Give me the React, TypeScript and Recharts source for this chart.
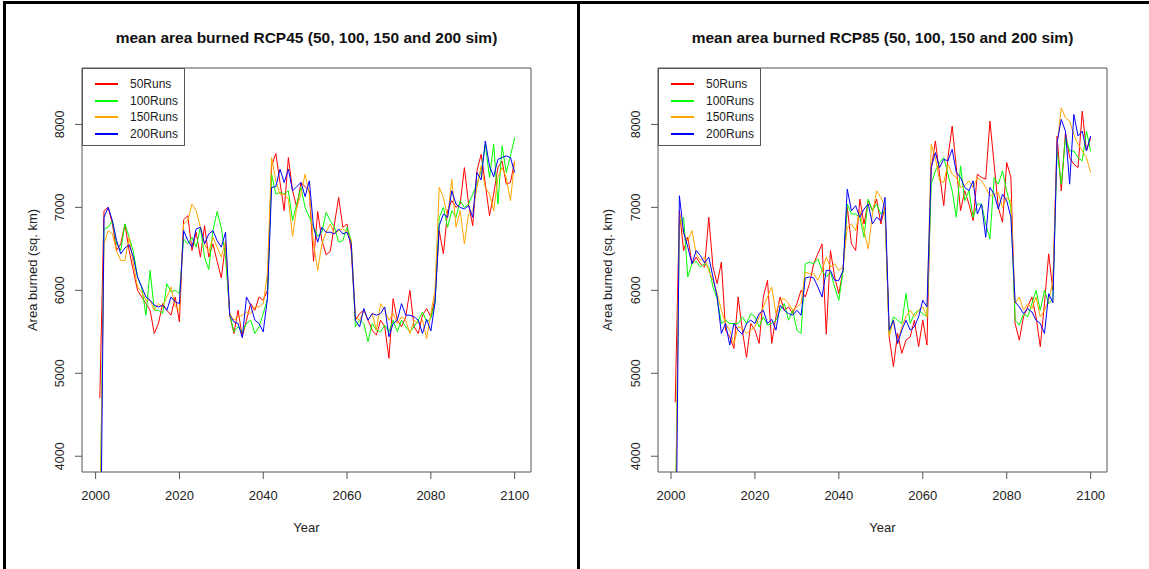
import React from 'react';
import { LineChart, Line, XAxis, YAxis, ReferenceArea, Legend } from 'recharts';

const FONT = '"Liberation Sans", Arial, Helvetica, sans-serif';

const years: number[] = Array.from({ length: 100 }, (_, i) => 2001 + i);
const seriesKeys = ['r50', 'r100', 'r150', 'r200'];
const seriesNames = ['50Runs', '100Runs', '150Runs', '200Runs'];
const seriesColors = ['#FF0000', '#00FF00', '#FFA500', '#0000FF'];
const xTicks = [2000, 2020, 2040, 2060, 2080, 2100];
const yTicks = [4000, 5000, 6000, 7000, 8000];
const yDomain: [number, number] = [3810, 8680];

// RCP45
const rcp45_50 = [
  4700, 6960, 7000, 6800, 6480, 6560, 6800, 6480, 6240, 6000,
  5920, 5840, 5760, 5480, 5600, 5840, 5760, 5700, 5920, 5620,
  6850, 6900, 6480, 6700, 6400, 6780, 6400, 6560, 6350, 6150,
  6560, 5700, 5480, 5760, 5440, 5640, 5840, 5760, 5920, 5880,
  6000, 7500, 7650, 7300, 6960, 7600, 7200, 7000, 7300, 7250,
  7200, 6350, 6950, 6600, 6430, 6470, 6800, 7120, 6760, 6800,
  6480, 5640, 5720, 5760, 5640, 5520, 5460, 5640, 5560, 5180,
  5900, 5640, 5560, 5680, 6000, 5560, 5480, 5700, 5780, 5680,
  5900, 6720, 6440, 6960, 7080, 7000, 7040, 7480, 7040, 6780,
  7440, 7640, 7280, 6900, 7160, 7480, 7560, 7280, 7300, 7560,
];
const rcp45_100 = [
  3000, 6740, 6760, 6840, 6560, 6480, 6800, 6640, 6470, 6160,
  6040, 5700, 6240, 5760, 5760, 5720, 6080, 5980, 6000, 5960,
  6620, 6560, 6640, 6520, 6760, 6400, 6250, 6720, 6950, 6750,
  6400, 5720, 5500, 5560, 5500, 5600, 5640, 5480, 5560, 5720,
  5900, 7400, 7160, 7180, 7160, 7200, 6840, 7040, 7240, 7000,
  6880, 6770, 6650, 6700, 6940, 6840, 6760, 6580, 6600, 6760,
  6600, 5560, 5640, 5600, 5380, 5600, 5520, 5500, 5580, 5500,
  5640, 5500, 5640, 5560, 5500, 5560, 5640, 5740, 5620, 5660,
  5850, 6880, 7000, 6760, 6960, 6880, 7080, 7000, 7040, 7160,
  7280, 7440, 7760, 7360, 7760, 7040, 7740, 7420, 7620, 7840,
];
const rcp45_150 = [
  3000, 6560, 6720, 6680, 6470, 6360, 6360, 6640, 6320, 6040,
  5980, 5880, 5880, 5760, 5840, 5800, 5920, 6040, 5800, 5760,
  6800, 6840, 7040, 6960, 6760, 6560, 6460, 6640, 6520, 6400,
  6600, 5720, 5640, 5680, 5700, 5740, 5720, 5800, 5800, 5840,
  6200, 7600, 7320, 7160, 7160, 7100, 6650, 7000, 7160, 7400,
  7160, 6560, 6240, 6560, 6700, 6800, 6680, 6720, 6740, 6700,
  6600, 5680, 5640, 5760, 5640, 5720, 5520, 5840, 5760, 5640,
  5720, 5600, 5680, 5640, 5480, 5640, 5600, 5640, 5420, 5720,
  6000, 7240, 7120, 6880, 7340, 6760, 6960, 6560, 6920, 6960,
  7240, 7500, 7240, 7160, 6960, 7360, 7480, 7360, 7080, 7560,
];
const rcp45_200 = [
  1700, 6880, 7000, 6840, 6600, 6440, 6510, 6550, 6400, 6160,
  6040, 5920, 5880, 5820, 5800, 5820, 5760, 5920, 5860, 5840,
  6720, 6600, 6520, 6740, 6760, 6560, 6680, 6720, 6600, 6520,
  6700, 5700, 5620, 5600, 5430, 5920, 5820, 5640, 5600, 5500,
  5900, 7240, 7250, 7460, 7300, 7460, 7200, 7250, 7300, 7130,
  7320, 6760, 6580, 6760, 6700, 6700, 6680, 6740, 6680, 6700,
  6560, 5640, 5560, 5780, 5640, 5720, 5700, 5720, 5800, 5440,
  5600, 5640, 5840, 5700, 5700, 5680, 5640, 5480, 5650, 5510,
  5850, 6780, 6920, 6880, 7200, 7040, 7000, 6980, 7020, 6880,
  7420, 7330, 7800, 7500, 7370, 7580, 7600, 7620, 7600, 7420,
];

// RCP85
const rcp85_50 = [
  4650, 6960, 6480, 6640, 6320, 6400, 6320, 6280, 6880, 6280,
  6080, 6340, 5520, 5440, 5300, 5920, 5520, 5190, 5600, 5520,
  5360, 5920, 6120, 5360, 5680, 5920, 5760, 5800, 5720, 5840,
  6000, 5920, 6080, 6320, 6440, 6560, 5470, 6480, 6160, 5960,
  6240, 7000, 6560, 6480, 7100, 6800, 7080, 6960, 7100, 6800,
  7000, 5440, 5080, 5480, 5240, 5400, 5440, 5640, 5320, 5640,
  5340, 7460, 7800, 7400, 7020, 7600, 7980, 7480, 6960, 7200,
  7040, 6840, 7400, 7360, 7340, 8040, 7520, 7000, 6820, 7540,
  7360, 5600, 5400, 5680, 5800, 5920, 5680, 5320, 5840, 6440,
  6000, 7860, 7200, 7900, 7600, 7520, 7480, 8160, 7680, 7840,
];
const rcp85_100 = [
  3000, 6800, 6880, 6160, 6320, 6350, 6280, 6320, 6280, 6040,
  5900, 5600, 5640, 5600, 5600, 5600, 5680, 5600, 5720, 5680,
  5560, 5680, 5580, 5600, 5640, 5760, 5840, 5640, 5760, 5520,
  5480, 6320, 6340, 6320, 6380, 6240, 6160, 6220, 6040, 5880,
  6240, 7040, 6920, 6920, 6880, 6640, 7100, 6960, 7040, 6920,
  6960, 5480, 5680, 5640, 5600, 5960, 5600, 5720, 5760, 5720,
  5680, 7280, 7440, 7540, 7600, 7400, 7200, 6880, 7500, 7080,
  7200, 6880, 7040, 7040, 6800, 6620, 7360, 7280, 7440, 7200,
  7000, 5640, 5580, 5720, 5680, 5840, 6000, 5760, 6000, 5840,
  5900, 7680, 7280, 7840, 7680, 7680, 7600, 7560, 7920, 7680,
];
const rcp85_150 = [
  3000, 6920, 6680, 6600, 6720, 6440, 6360, 6400, 6240, 6120,
  5960, 5760, 5600, 5520, 5360, 5560, 5540, 5480, 5520, 5560,
  5680, 5800, 5920, 6040, 5720, 5880, 5900, 5840, 5760, 5800,
  5840, 6220, 6200, 6200, 6120, 6240, 6400, 6280, 6320, 6240,
  6280, 6760, 6800, 6720, 6960, 6720, 6500, 6920, 7200, 7120,
  7000, 5440, 5640, 5360, 5560, 5680, 5760, 5680, 5760, 5800,
  5680, 7760, 7600, 7320, 7300, 7520, 7400, 7360, 7240, 7260,
  7320, 7240, 7360, 7320, 7240, 7140, 7160, 7180, 7000, 7120,
  7080, 5840, 5920, 5760, 5840, 5780, 5920, 5680, 5760, 5880,
  6100, 7760, 8200, 8080, 8040, 7880, 7760, 7680, 7600, 7420,
];
const rcp85_200 = [
  1700, 7140, 6700, 6520, 6320, 6480, 6420, 6330, 6400, 6160,
  5920, 5480, 5600, 5340, 5600, 5520, 5470, 5600, 5640, 5600,
  5720, 5760, 5600, 5650, 5520, 5820, 5760, 5720, 5700, 5760,
  5700, 6150, 6160, 6150, 6040, 5920, 6240, 6240, 6120, 6120,
  6240, 7220, 6960, 7020, 6880, 6980, 7040, 6800, 6880, 6840,
  7120, 5520, 5640, 5360, 5520, 5640, 5520, 5560, 5680, 5880,
  5800, 7480, 7660, 7480, 7580, 7560, 7700, 7420, 7360, 7240,
  7200, 7320, 6920, 7040, 6640, 7240, 7160, 6980, 7160, 7080,
  6880, 5860, 5800, 5720, 5780, 5740, 5640, 5600, 5480, 5960,
  5850, 7780, 8060, 7920, 7280, 8120, 7860, 7920, 7680, 7860,
];

function buildRows(series: number[][]) {
  return years.map((year, i) => {
    const row: any = { year };
    seriesKeys.forEach((k, j) => {
      row[k] = series[j][i];
    });
    return row;
  });
}

const data45 = buildRows([rcp45_50, rcp45_100, rcp45_150, rcp45_200]);
const data85 = buildRows([rcp85_50, rcp85_100, rcp85_150, rcp85_200]);

const XTick = (props: any) => {
  const { x, y, payload } = props;
  return (
    <text x={x} y={y + 18.5} textAnchor="middle" fontSize={13} fill="#222" fontFamily={FONT}>
      {payload.value}
    </text>
  );
};

const YTick = (props: any) => {
  const { x, y, payload } = props;
  const bx = x - 9;
  return (
    <text
      x={bx}
      y={y}
      transform={`rotate(-90 ${bx} ${y})`}
      textAnchor="middle"
      fontSize={12.5}
      fill="#222"
      fontFamily={FONT}
    >
      {payload.value}
    </text>
  );
};

const XTitle = (props: any) => {
  const vb = props.viewBox || { x: 82, y: 472, width: 449, height: 97 };
  return (
    <text x={vb.x + vb.width / 2} y={vb.y + 59.5} textAnchor="middle" fontSize={13} fill="#222" fontFamily={FONT}>
      Year
    </text>
  );
};

const YTitle = (props: any) => {
  const vb = props.viewBox || { x: 0, y: 68, width: 82, height: 404 };
  const bx = vb.x + 36.5;
  const cy = vb.y + vb.height / 2;
  return (
    <text
      x={bx}
      y={cy}
      transform={`rotate(-90 ${bx} ${cy})`}
      textAnchor="middle"
      fontSize={13}
      fill="#222"
      fontFamily={FONT}
    >
      Area burned (sq. km)
    </text>
  );
};

// Legend drawn in the series' own order and colours (R-style boxed legend)
const LegendBox = () => {
  return (
    <div
      style={{
        position: 'relative',
        width: 103,
        height: 78,
        border: '1px solid #555',
        boxSizing: 'border-box',
        background: '#fff',
        fontFamily: FONT,
        fontSize: 12,
        color: '#222',
        textAlign: 'left',
      }}
    >
      {seriesNames.map((name, i) => {
        const cy = Math.round(15 + i * 16.5);
        return (
          <React.Fragment key={name}>
            <div
              style={{
                position: 'absolute',
                left: 12,
                top: cy - 1,
                width: 23,
                height: 2,
                backgroundColor: seriesColors[i],
              }}
            />
            <div style={{ position: 'absolute', left: 47, top: cy - 8, height: 16, lineHeight: '16px' }}>{name}</div>
          </React.Fragment>
        );
      })}
    </div>
  );
};

type PanelProps = {
  left: number;
  width: number;
  yAxisWidth: number;
  marginRight: number;
  xDomain: [number, number];
  data: any[];
  title: string;
};

const Panel = ({ left, width, yAxisWidth, marginRight, xDomain, data, title }: PanelProps) => {
  return (
    <div style={{ position: 'absolute', left, top: 0, width, height: 569 }}>
      <LineChart width={width} height={569} data={data} margin={{ top: 68, right: marginRight, left: 0, bottom: 0 }}>
        <XAxis
          dataKey="year"
          type="number"
          domain={xDomain}
          ticks={xTicks}
          interval={0}
          allowDataOverflow
          axisLine={false}
          tickLine={{ stroke: '#555' }}
          tickSize={7}
          tickMargin={2}
          tick={<XTick />}
          height={97}
          label={<XTitle />}
        />
        <YAxis
          type="number"
          domain={yDomain}
          ticks={yTicks}
          interval={0}
          allowDataOverflow
          axisLine={false}
          tickLine={{ stroke: '#555' }}
          tickSize={7}
          tickMargin={2}
          tick={<YTick />}
          width={yAxisWidth}
          label={<YTitle />}
        />
        {seriesKeys.map((k, i) => (
          <Line
            key={k}
            dataKey={k}
            name={seriesNames[i]}
            stroke={seriesColors[i]}
            strokeWidth={1}
            dot={false}
            activeDot={false}
            isAnimationActive={false}
          />
        ))}
        <ReferenceArea
          x1={xDomain[0]}
          x2={xDomain[1]}
          y1={yDomain[0]}
          y2={yDomain[1]}
          fill="none"
          fillOpacity={0}
          stroke="#555"
          strokeWidth={1}
          ifOverflow="visible"
        />
        <Legend
          layout="vertical"
          align="center"
          verticalAlign="middle"
          content={<LegendBox />}
          wrapperStyle={{ left: yAxisWidth, top: 68, width: 103, height: 78 }}
        />
      </LineChart>
      <div
        style={{
          position: 'absolute',
          left: yAxisWidth,
          width: width - yAxisWidth - marginRight,
          top: 28,
          lineHeight: '20px',
          textAlign: 'center',
          fontWeight: 'bold',
          fontSize: 15.5,
          fontFamily: FONT,
          color: '#111',
          whiteSpace: 'nowrap',
        }}
      >
        {title}
      </div>
    </div>
  );
};

export default function App() {
  return (
    <div style={{ position: 'absolute', left: 0, top: 0, width: 1149, height: 569, background: '#fff', overflow: 'hidden' }}>
      <Panel
        left={0}
        width={580}
        yAxisWidth={82}
        marginRight={49}
        xDomain={[1996.75, 2103.9]}
        data={data45}
        title="mean area burned RCP45 (50, 100, 150 and 200 sim)"
      />
      <Panel
        left={575}
        width={574}
        yAxisWidth={83}
        marginRight={42}
        xDomain={[1996.9, 2103.9]}
        data={data85}
        title="mean area burned RCP85 (50, 100, 150 and 200 sim)"
      />
      <div style={{ position: 'absolute', left: 3, top: 1, width: 1146, height: 3, background: '#000' }} />
      <div style={{ position: 'absolute', left: 3, top: 1, width: 3, height: 568, background: '#000' }} />
      <div style={{ position: 'absolute', left: 577, top: 1, width: 3, height: 568, background: '#000' }} />
    </div>
  );
}
